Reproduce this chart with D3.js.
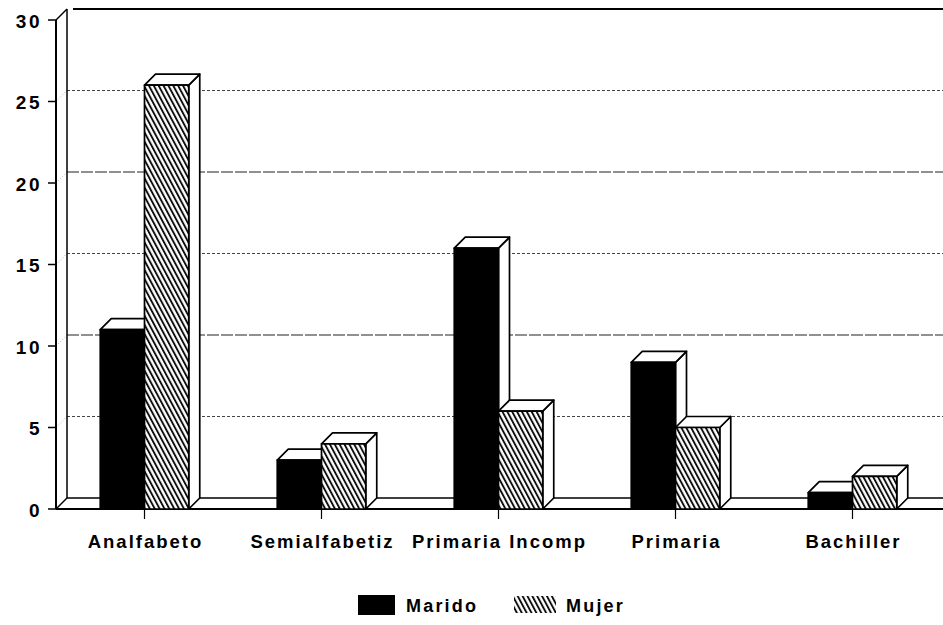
<!DOCTYPE html>
<html>
<head>
<meta charset="utf-8">
<script src="https://cdn.jsdelivr.net/npm/d3@7"></script>
<style>
  html, body { margin: 0; padding: 0; background: #fff; }
  svg { display: block; }
  text { font-family: "Liberation Sans", Arial, Helvetica, sans-serif; font-weight: bold; fill: #000; }
</style>
</head>
<body>
<svg id="chart" width="943" height="625"></svg>
<script>
// Nivel educativo de marido y mujer
const categories = ["Analfabeto", "Semialfabetiz", "Primaria Incomp", "Primaria", "Bachiller"];
const series = ["Marido", "Mujer"];
const maridoValues = [11, 3, 16, 9, 1];
const mujerValues = [26, 4, 6, 5, 2];
const yTicks = [0, 5, 10, 15, 20, 25, 30];

const svg = d3.select("#chart");
const W = 943;
const depthX = 11, depthY = -11;

const x = d3.scaleBand().domain(categories).range([56, 941]).paddingInner(0.5).paddingOuter(0.25);
const xs = d3.scaleBand().domain(series).range([0, x.bandwidth()]);
const y = d3.scaleLinear().domain([0, 30]).range([509, 20]);

// Hatch for Mujer
const defs = svg.append("defs");
const pat = defs.append("pattern")
  .attr("id", "hatch")
  .attr("patternUnits", "userSpaceOnUse")
  .attr("width", 4.3).attr("height", 10)
  .attr("patternTransform", "rotate(-28)");
pat.append("rect").attr("width", 4.3).attr("height", 10).attr("fill", "#fff");
pat.append("line").attr("x1", 1).attr("x2", 1).attr("y1", 0).attr("y2", 10)
  .attr("stroke", "#000").attr("stroke-width", 1.8);

const x0 = 56, backX = x0 + depthX;

// Back wall gridlines
const grid = svg.append("g");
yTicks.filter(v => v > 0).forEach(v => {
  const yy = y(v) + depthY;
  grid.append("line")
    .attr("x1", v === 30 ? backX + 6 : backX).attr("x2", W)
    .attr("y1", yy).attr("y2", yy)
    .attr("stroke", v === 30 ? "#000" : (v % 10 === 0 ? "#222" : "#444"))
    .attr("stroke-width", v === 30 ? 2 : 1.1)
    .attr("stroke-dasharray", v === 30 ? null : (v % 10 === 0 ? "12,2" : "3,2"));
  // side wall diagonals
  grid.append("line")
    .attr("x1", x0).attr("y1", y(v))
    .attr("x2", backX).attr("y2", yy)
    .attr("stroke", "#999").attr("stroke-width", 0.8)
    .attr("stroke-dasharray", "1,2");
});

// Back wall left edge
svg.append("line").attr("x1", backX).attr("x2", backX)
  .attr("y1", y(30) + depthY).attr("y2", y(0) + depthY)
  .attr("stroke", "#000").attr("stroke-width", 1.5);

// Floor
svg.append("line").attr("x1", backX).attr("x2", W)
  .attr("y1", y(0) + depthY).attr("y2", y(0) + depthY)
  .attr("stroke", "#000").attr("stroke-width", 1.5);
svg.append("line").attr("x1", x0).attr("y1", y(0))
  .attr("x2", backX).attr("y2", y(0) + depthY)
  .attr("stroke", "#000").attr("stroke-width", 1.5);
svg.append("line").attr("x1", x0).attr("x2", W)
  .attr("y1", y(0)).attr("y2", y(0))
  .attr("stroke", "#000").attr("stroke-width", 2.2);

// Front vertical axis
svg.append("line").attr("x1", x0).attr("x2", x0)
  .attr("y1", y(30)).attr("y2", y(0))
  .attr("stroke", "#000").attr("stroke-width", 2);
svg.append("line").attr("x1", x0).attr("y1", y(30))
  .attr("x2", backX).attr("y2", y(30) + depthY)
  .attr("stroke", "#000").attr("stroke-width", 1.5);

// Y axis ticks and labels
const yAxis = svg.append("g");
yTicks.forEach(v => {
  yAxis.append("line").attr("x1", x0 - 8).attr("x2", x0)
    .attr("y1", y(v)).attr("y2", y(v))
    .attr("stroke", "#000").attr("stroke-width", 1.5);
  yAxis.append("text").attr("x", 42).attr("y", y(v) + 1)
    .attr("text-anchor", "end").attr("dominant-baseline", "central")
    .attr("font-size", 19).attr("letter-spacing", 2.5)
    .text(v);
});

// X axis ticks and labels
const xAxis = svg.append("g");
categories.forEach(c => {
  const cx = x(c) + x.bandwidth() / 2;
  xAxis.append("line").attr("x1", cx).attr("x2", cx)
    .attr("y1", y(0)).attr("y2", y(0) + 10)
    .attr("stroke", "#000").attr("stroke-width", 1.2);
  xAxis.append("text").attr("x", cx + 1).attr("y", 541)
    .attr("text-anchor", "middle").attr("dominant-baseline", "central")
    .attr("font-size", 18.5).attr("letter-spacing", 2)
    .text(c);
});

// 3D bars
const data = categories.map((c, i) => ({ c, vals: [
  { s: "Marido", v: maridoValues[i], fill: "#000" },
  { s: "Mujer", v: mujerValues[i], fill: "url(#hatch)" }
]}));

const bars = svg.append("g");
data.forEach(d => {
  d.vals.forEach(b => {
    const bx = x(d.c) + xs(b.s);
    const w = xs.bandwidth();
    const top = y(b.v), base = y(0);
    const g = bars.append("g").attr("stroke", "#000").attr("stroke-width", 1.7).attr("stroke-linejoin", "round");
    // side face
    g.append("polygon").attr("fill", "#fff")
      .attr("points", [[bx + w, top], [bx + w + depthX, top + depthY], [bx + w + depthX, base + depthY], [bx + w, base]].join(" "));
    // top face
    g.append("polygon").attr("fill", "#fff")
      .attr("points", [[bx, top], [bx + depthX, top + depthY], [bx + w + depthX, top + depthY], [bx + w, top]].join(" "));
    // front face
    g.append("rect").attr("x", bx).attr("y", top)
      .attr("width", w).attr("height", base - top)
      .attr("fill", b.fill);
  });
});

// Legend
const legend = svg.append("g");
legend.append("rect").attr("x", 358).attr("y", 595).attr("width", 37).attr("height", 20).attr("fill", "#000");
legend.append("text").attr("x", 406).attr("y", 606).attr("dominant-baseline", "central")
  .attr("font-size", 18).attr("letter-spacing", 2.2).text("Marido");
legend.append("rect").attr("x", 514).attr("y", 596).attr("width", 42).attr("height", 17)
  .attr("fill", "url(#hatch)");
legend.append("text").attr("x", 566).attr("y", 606).attr("dominant-baseline", "central")
  .attr("font-size", 18).attr("letter-spacing", 2.2).text("Mujer");
</script>
</body>
</html>
